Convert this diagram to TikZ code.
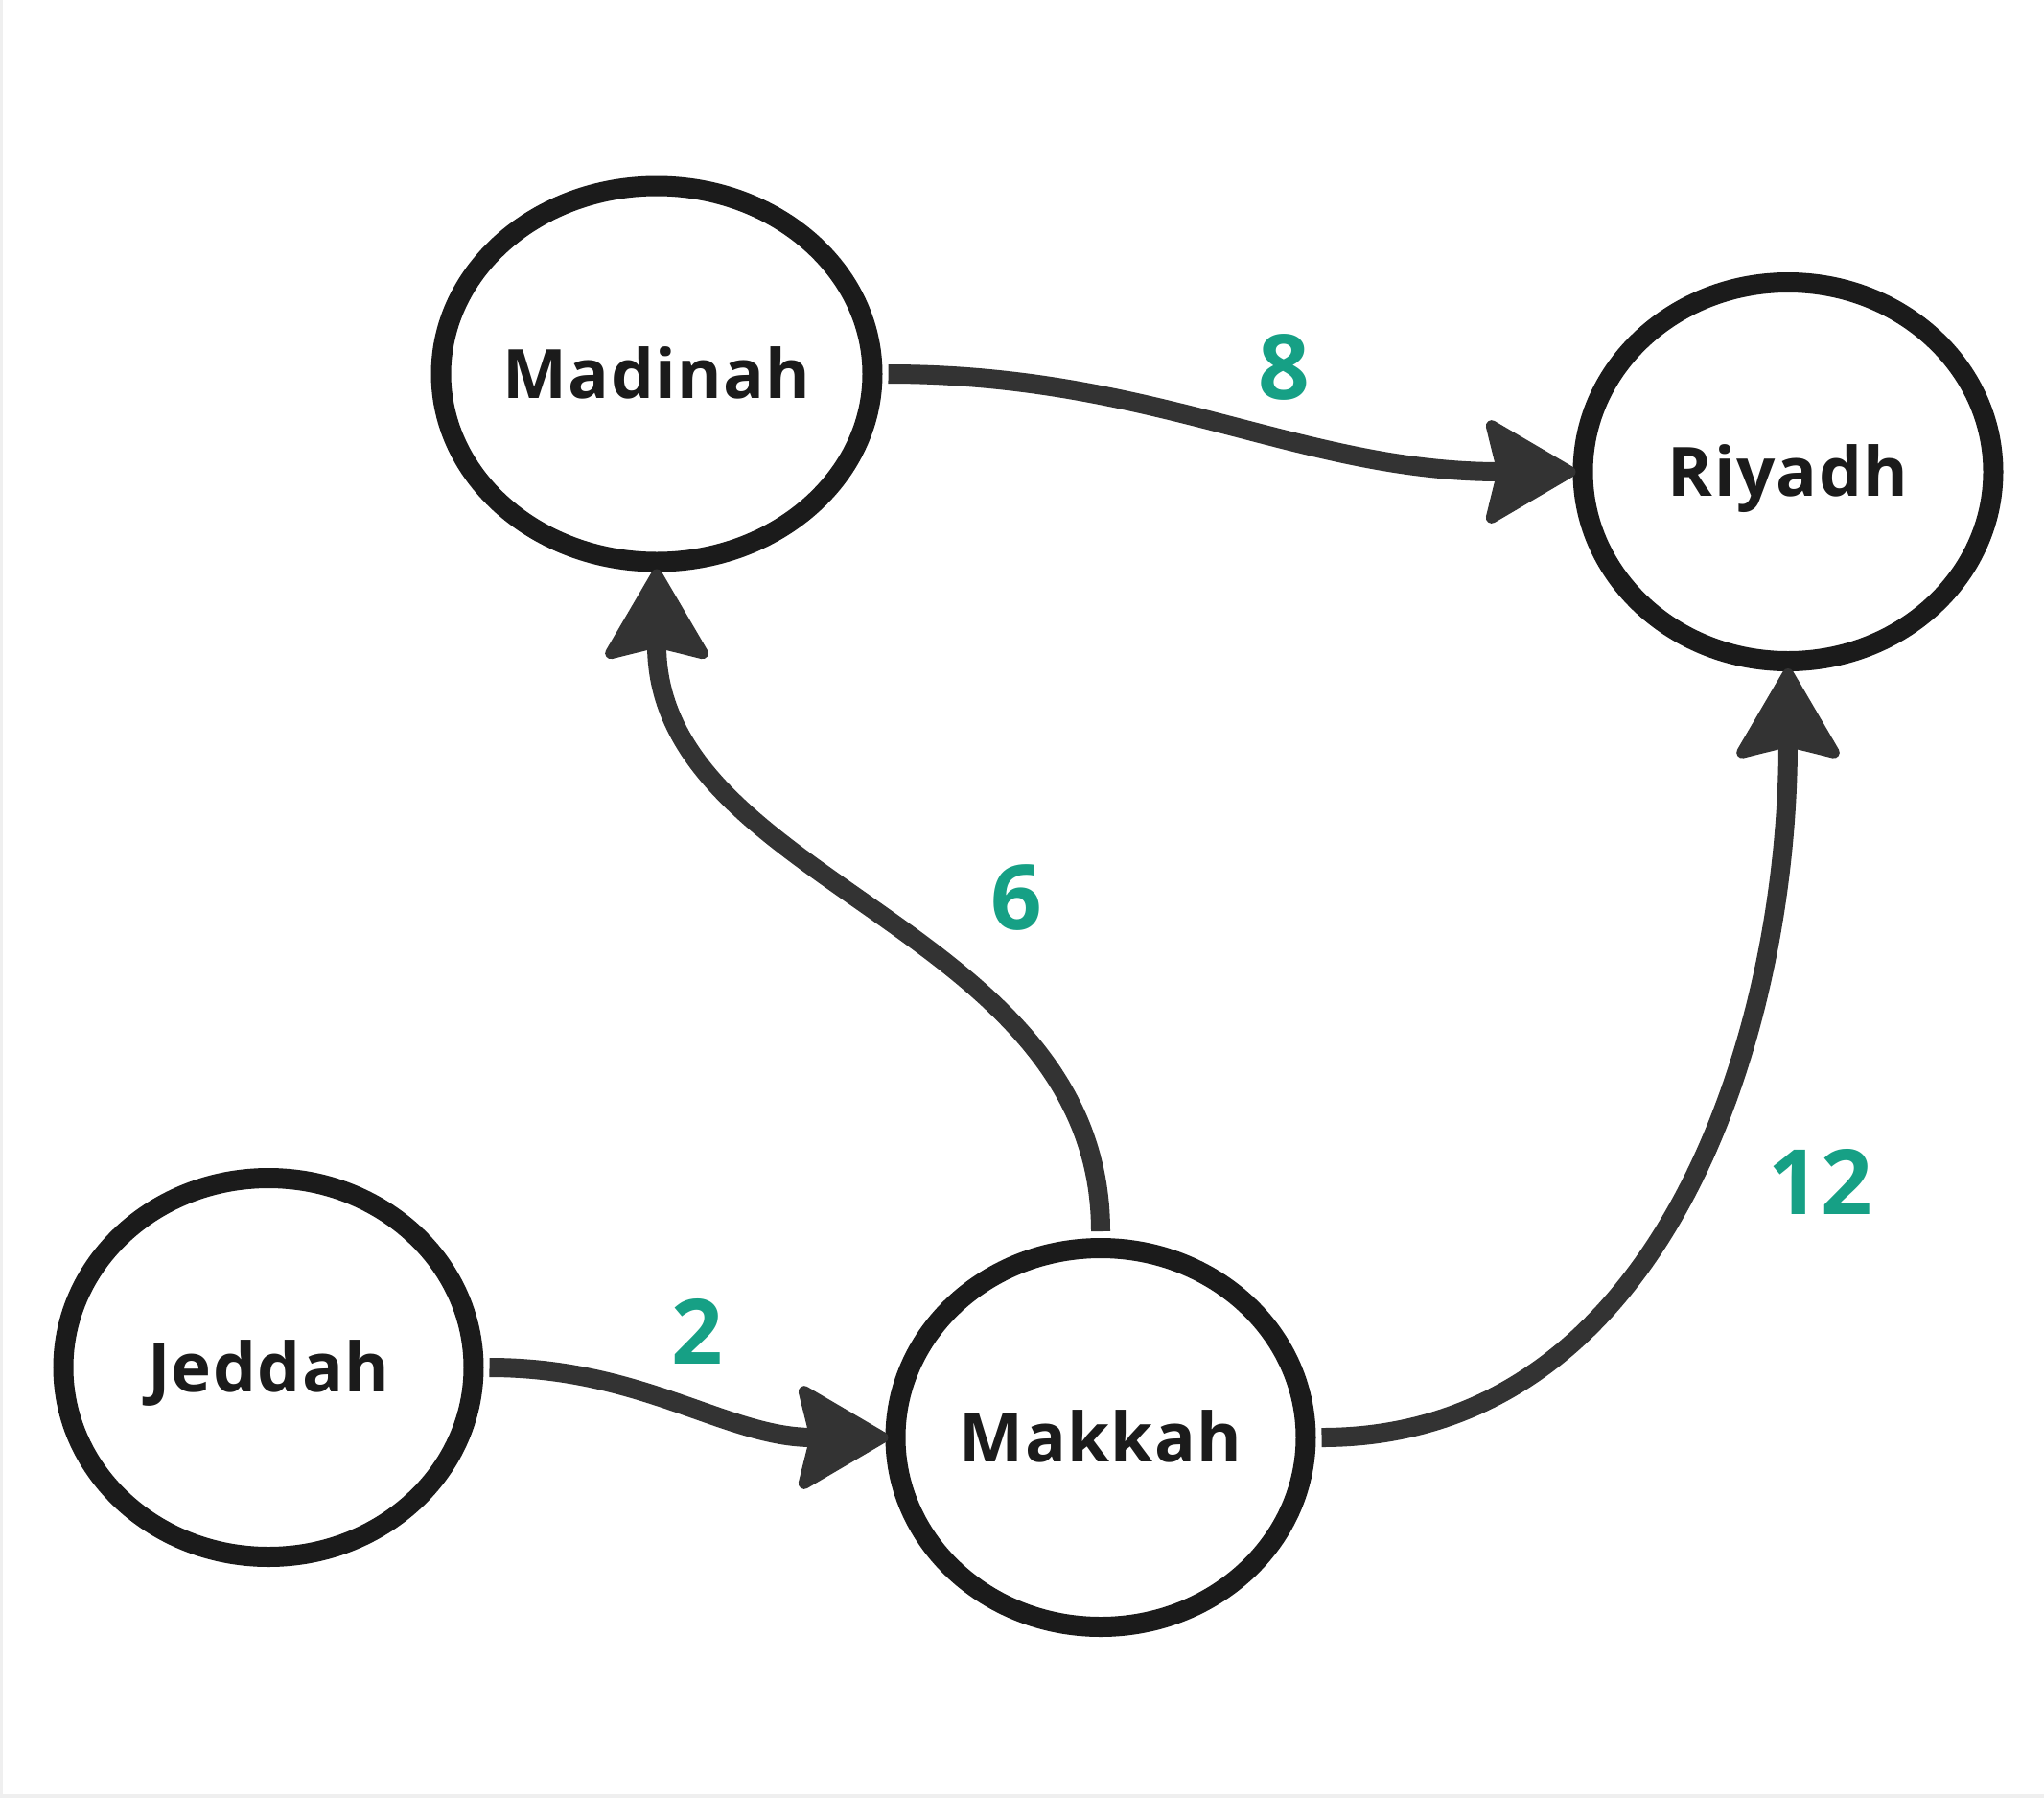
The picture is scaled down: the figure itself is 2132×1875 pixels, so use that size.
\documentclass[tikz,border=0pt]{standalone}
\usepackage{fontspec}
\setmainfont{Open Sans}[LetterSpace=2]
\usetikzlibrary{arrows.meta,shapes.geometric}
\definecolor{nodeline}{HTML}{1B1B1B}
\definecolor{edgeline}{HTML}{333333}
\definecolor{wgreen}{HTML}{16A085}
\definecolor{frame}{HTML}{EFEFEF}
\newcommand\cityname[1]{\makebox[0pt]{#1}}
\begin{document}
\begin{tikzpicture}[x=0.5pt,y=-0.5pt,
  city/.style={ellipse, draw=nodeline, line width=10.5pt, fill=white,
    minimum width=214pt, minimum height=197.5pt, inner sep=0pt,
    text=nodeline, font=\fontsize{35.5pt}{42pt}\selectfont\bfseries,
    text height=25.4pt, text depth=0pt},
  route/.style={draw=edgeline, line width=10pt,
    -{Stealth[length=51pt,width=59pt,inset=7pt,line width=6pt,round]},
    shorten <=3pt, shorten >=-1.5pt},
  weight/.style={text=wgreen, font=\fontsize{47pt}{56pt}\selectfont\bfseries,
    text height=33.6pt, text depth=0pt, inner sep=0pt}]
\useasboundingbox (0,0) rectangle (2132,1875);
\fill[white] (0,0) rectangle (2132,1875);
\fill[frame] (0,0) rectangle (3,1875);
\fill[frame] (0,1871) rectangle (2132,1875);

\node[city, minimum width=225pt, minimum height=196pt] (mad) at (685,390) {\cityname{Madinah}};
\node[city] (riy) at (1865,492) {\cityname{Riyadh}};
\node[city] (jed) at (280,1426) {\cityname{Jeddah}};
\node[city] (mak) at (1148,1499) {\cityname{Makkah}};

\draw[route] (jed.east) to[out=0,in=180] (mak.west);
\draw[route] (mad.east) to[out=0,in=180] (riy.west);
\draw[route, shorten <=3.5pt] (mak.north) to[out=90,in=-90] (mad.south);
\draw[route] (mak.east) to[out=0,in=-90] (riy.south);

\node[weight] (w8) at (1339,383) {8};
\node[weight] (w6) at (1060,936) {6};
\node[weight] (w2) at (727,1389) {2};
\node[weight] (w12) at (1899,1233) {12};
\end{tikzpicture}
\end{document}
